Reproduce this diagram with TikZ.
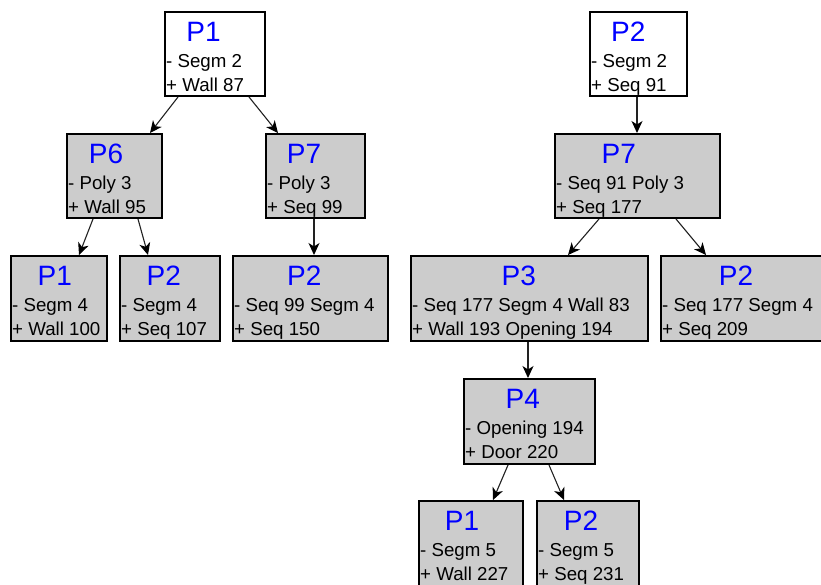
\documentclass[tikz,border=0pt]{standalone}
\usepackage{fontspec}
\setmainfont{Liberation Sans}
\usetikzlibrary{arrows.meta}
\definecolor{boxgray}{HTML}{CCCCCC}
\definecolor{titleblue}{HTML}{0000FF}
\definecolor{linkgray}{HTML}{222222}
\tikzset{
  wbox/.style={draw=black, line width=2pt, fill=white, anchor=north west, inner sep=0pt},
  gbox/.style={wbox, fill=boxgray},
  ttl/.style={anchor=base, inner sep=0pt, text=titleblue, font=\fontsize{28}{30}\selectfont},
  txt/.style={anchor=base west, inner sep=0pt, font=\fontsize{18.7}{20}\selectfont},
  arr/.style={draw=linkgray, line width=1.1pt, -{Stealth[length=12pt,width=11pt,inset=3.5pt,black]}}
}
\newcommand{\pbox}[9]{% style, name, x, y, w, h, title, titlex, first line
  \node[#1, minimum width=#5pt, minimum height=#6pt] (#2) at (#3,#4) {};
  \node[ttl] (#2t) at (#8,#4+30) {#7};
  \node[txt] (#2a) at ([xshift=2pt,yshift=-56pt]#2.north west) {#9};
}
\newcommand{\secondline}[2]{%
  \node[txt] (#1b) at ([xshift=2pt,yshift=-80pt]#1.north west) {#2};
}
\begin{document}
\begin{tikzpicture}[x=1pt,y=-1pt]
\useasboundingbox (0,0) rectangle (821,584);
\clip (0,0) rectangle (821,584);
\fill[white] (0,0) rectangle (821,584);

\pbox{wbox}{r1}{164}{11}{100}{84}{P1}{203.5}{- Segm 2}
\secondline{r1}{+ Wall 87}
\pbox{wbox}{r2}{589}{11}{97}{84}{P2}{628.3}{- Segm 2}
\secondline{r2}{+ Seq 91}

\pbox{gbox}{p6}{66}{133}{95}{84}{P6}{106}{- Poly 3}
\secondline{p6}{+ Wall 95}
\pbox{gbox}{p7a}{265}{133}{99}{84}{P7}{304}{- Poly 3}
\secondline{p7a}{+ Seq 99}
\pbox{gbox}{p7b}{554}{133}{165}{84}{P7}{618.8}{- Seq 91 Poly 3}
\secondline{p7b}{+ Seq 177}

\pbox{gbox}{p1a}{10}{255}{96}{85}{P1}{54.8}{- Segm 4}
\secondline{p1a}{+ Wall 100}
\pbox{gbox}{p2a}{119}{255}{100}{85}{P2}{163.8}{- Segm 4}
\secondline{p2a}{+ Seq 107}
\pbox{gbox}{p2b}{232}{255}{155}{85}{P2}{304.2}{- Seq 99 Segm 4}
\secondline{p2b}{+ Seq 150}
\pbox{gbox}{p3}{410}{255}{237}{85}{P3}{518.8}{- Seq 177 Segm 4 Wall 83}
\secondline{p3}{+ Wall 193 Opening 194}
\pbox{gbox}{p2c}{660}{255}{170}{85}{P2}{736}{- Seq 177 Segm 4}
\secondline{p2c}{+ Seq 209}

\pbox{gbox}{p4}{463}{378}{131}{85}{P4}{522.7}{- Opening 194}
\secondline{p4}{+ Door 220}

\pbox{gbox}{p1b}{418}{500}{104}{95}{P1}{462}{- Segm 5}
\secondline{p1b}{+ Wall 227}
\pbox{gbox}{p2d}{536}{500}{102}{95}{P2}{581}{- Segm 5}
\secondline{p2d}{+ Seq 231}

\draw[arr] ([xshift=14pt]r1.south west) -- ([xshift=84pt]p6.north west);
\draw[arr] ([xshift=85pt]r1.south west) -- ([xshift=13pt]p7a.north west);
\draw[arr] ([xshift=27pt]p6.south west) -- ([xshift=69pt]p1a.north west);
\draw[arr] ([xshift=72pt]p6.south west) -- ([xshift=29pt]p2a.north west);
\draw[arr] ([xshift=49pt]p7a.south west) -- ([xshift=82pt]p2b.north west);
\draw[arr] ([xshift=48pt]r2.south west) -- ([xshift=83pt]p7b.north west);
\draw[arr] ([xshift=45pt]p7b.south west) -- ([xshift=158pt]p3.north west);
\draw[arr] ([xshift=122pt]p7b.south west) -- ([xshift=46pt]p2c.north west);
\draw[arr] ([xshift=118pt]p3.south west) -- ([xshift=65pt]p4.north west);
\draw[arr] ([xshift=45pt]p4.south west) -- ([xshift=75pt]p1b.north west);
\draw[arr] ([xshift=86pt]p4.south west) -- ([xshift=28pt]p2d.north west);
\end{tikzpicture}
\end{document}
